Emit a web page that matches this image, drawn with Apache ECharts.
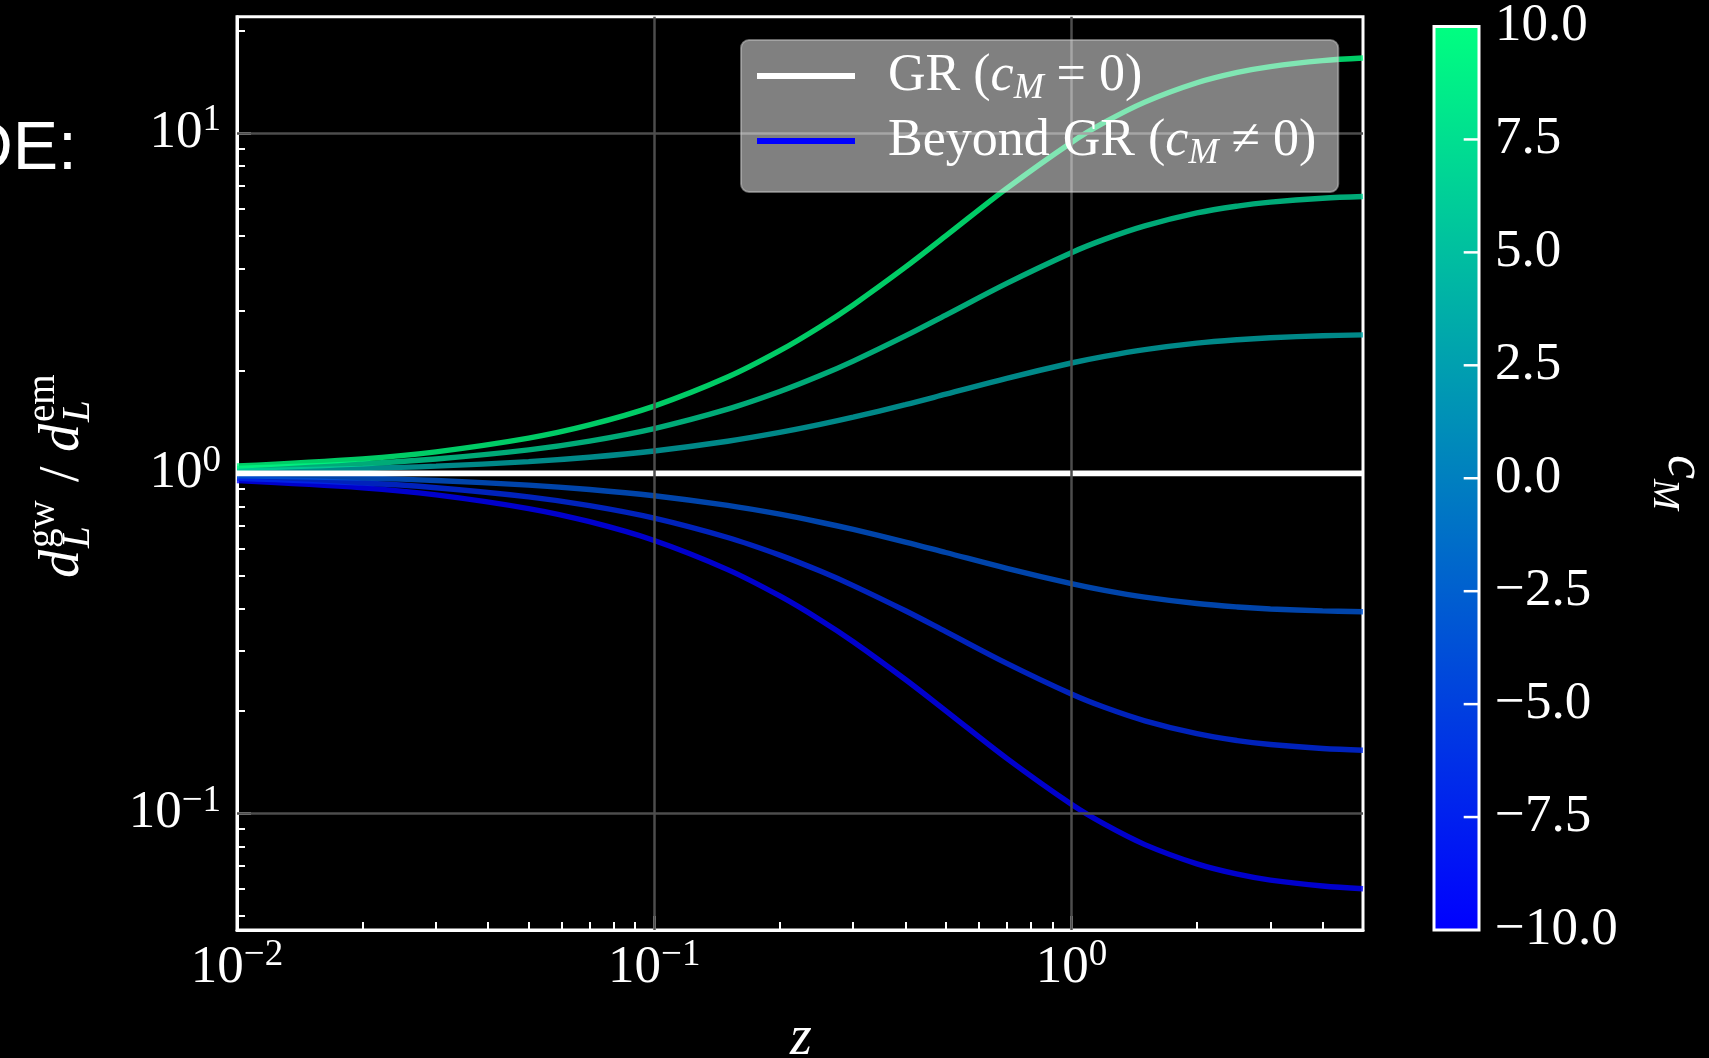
<!DOCTYPE html>
<html><head><meta charset="utf-8">
<script src="https://cdn.jsdelivr.net/npm/echarts@6/dist/echarts.min.js"></script>
<style>html,body{margin:0;padding:0;background:#000;}#c{width:1709px;height:1058px;}</style>
</head><body><div id="c"></div>
<script>
// ---- data ----
const zVals = [0.01,0.02,0.03,0.05,0.07,0.1,0.15,0.2,0.25,0.3,0.4,0.5,0.7,1,1.2,1.5,2,2.5,3,4,5];
const cMValues = [-10,-6.67,-3.33,0,3.33,6.67,10];
const ratioCm10   = [1.0507,1.1030,1.1568,1.2690,1.3876,1.5758,1.9185,2.2935,2.6977,3.1261,4.0364,4.9897,6.8849,9.3954,10.755,12.340,14.065,15.083,15.696,16.341,16.634];
const ratioCm6_67 = [1.0336,1.0675,1.1020,1.1722,1.2440,1.3540,1.5440,1.7394,1.9380,2.1380,2.5357,2.9196,3.6190,4.4536,4.8730,5.3396,5.8291,6.1052,6.2691,6.4403,6.5163];
const ratioCm3_33 = [1.0166,1.0332,1.0498,1.0827,1.1153,1.1636,1.2425,1.3188,1.3924,1.4622,1.5922,1.7087,1.9024,2.1104,2.2078,2.3110,2.4138,2.4706,2.5038,2.5374,2.5527];
const ratioCm0    = [1,1,1,1,1,1,1,1,1,1,1,1,1,1,1,1,1,1,1,1,1];
const ratioCmM3_33= [0.9837,0.9679,0.9526,0.9236,0.8966,0.8594,0.8048,0.7583,0.7182,0.6839,0.6281,0.5852,0.5257,0.4739,0.4529,0.4327,0.4143,0.4048,0.3994,0.3941,0.3917];
const ratioCmM6_67= [0.9675,0.9368,0.9074,0.8531,0.8039,0.7386,0.6477,0.5749,0.5160,0.4677,0.3944,0.3425,0.2763,0.2245,0.2052,0.1873,0.1716,0.1638,0.1595,0.1553,0.1535];
const ratioCmM10  = [0.9517,0.9066,0.8645,0.7880,0.7207,0.6346,0.5212,0.4360,0.3707,0.3199,0.2477,0.2004,0.1452,0.1064,0.0930,0.0810,0.0711,0.0663,0.0637,0.0612,0.0601];
const xMajorTicks = [0.01,0.1,1];
const xMinorTicks = [0.02,0.03,0.04,0.05,0.06,0.07,0.08,0.09,0.2,0.3,0.4,0.5,0.6,0.7,0.8,0.9,2,3,4];
const yMajorTicks = [0.1,1,10];
const yMinorTicks = [0.05,0.06,0.07,0.08,0.09,0.2,0.3,0.4,0.5,0.6,0.7,0.8,0.9,2,3,4,5,6,7,8,9,20];
const xRange = [0.01,5];
const yRange = [0.04545,22.0];
const cbRange = [-10,10];
const cbTicks = [-7.5,-5,-2.5,0,2.5,5,7.5];

// ---- helpers ----
const L10 = Math.log10;
const SERIF = '"Liberation Serif", "Times New Roman", serif';
function winter(c){ const t=(c-cbRange[0])/(cbRange[1]-cbRange[0]); return [0, Math.round(255*t), Math.round(255*(1-t/2))]; }
function mathExp(v){ const e=Math.round(v); return '{b|10}{p|'+(e<0?'\u2212'+(-e):e)+'}'; }
const tickRich = { b:{fontFamily:SERIF,fontSize:53,lineHeight:62,color:'#fff'}, p:{fontFamily:SERIF,fontSize:37,lineHeight:30,verticalAlign:'top',color:'#fff'} };

const curves = [
  {c:-10, v:ratioCmM10},{c:-6.67, v:ratioCmM6_67},{c:-3.33, v:ratioCmM3_33},
  {c:3.33, v:ratioCm3_33},{c:6.67, v:ratioCm6_67},{c:10, v:ratioCm10}
];

const series = [];
series.push({ type:'line', name:'gridlines', xAxisIndex:0, yAxisIndex:0, data:[], z:1, silent:true,
  markLine:{ silent:true, symbol:['none','none'], label:{show:false},
    lineStyle:{color:'#4d4d4d', width:2.5, type:'solid'},
    data:[{xAxis:L10(0.1)},{xAxis:L10(1)},{yAxis:L10(10)},{yAxis:L10(0.1)}] } });
curves.forEach(cv=>{
  const col = winter(cv.c);
  series.push({ type:'line', name:'cM '+cv.c, xAxisIndex:0, yAxisIndex:0, z:2,
    showSymbol:false, symbol:'none', smooth:0.35, silent:true,
    lineStyle:{color:'rgba('+col.join(',')+',0.8)', width:5.4},
    data: zVals.map((zz,i)=>[L10(zz), L10(cv.v[i])]) });
});
series.push({ type:'line', name:'GR', xAxisIndex:0, yAxisIndex:0, z:3, showSymbol:false, symbol:'none', silent:true,
  color:'#ffffff', itemStyle:{color:'#ffffff'}, lineStyle:{color:'#ffffff', width:5.6},
  data: zVals.map((zz,i)=>[L10(zz), L10(ratioCm0[i])]) });
series.push({ type:'line', name:'Beyond GR', xAxisIndex:0, yAxisIndex:0, showSymbol:false, symbol:'none',
  color:'#0000ff', itemStyle:{color:'#0000ff'}, lineStyle:{color:'#0000ff', width:5}, data:[] });
// colorbar tick marks on the colorbar's own axis, on a layer above everything
cbTicks.forEach((t,i)=>{
  series.push({ type:'line', name:'cbtick'+i, xAxisIndex:2, yAxisIndex:2, zlevel:1, z:10, silent:true,
    clip:false, showSymbol:false, symbol:'none', color:'#ffffff',
    lineStyle:{color:'#ffffff', width:2.5, opacity:1}, data:[[0.66, t],[1, t]] });
});

const gridRect = {left:237, top:16.7, width:1126, height:913.3};
const cb0 = winter(cbRange[0]), cb1 = winter(cbRange[1]);
const cbGradient = new echarts.graphic.LinearGradient(0,1,0,0,[
  {offset:0, color:'rgb('+cb0.join(',')+')'}, {offset:1, color:'rgb('+cb1.join(',')+')'}]);

function txt(text, x, base, fs, italic, family){
  return { type:'text', x:x, y:base-0.3*fs, silent:true,
    style:{ text:text, font:(italic?'italic ':'')+fs+'px '+(family||SERIF), fill:'#ffffff',
            textAlign:'left', textVerticalAlign:'middle', align:'left', verticalAlign:'middle' } };
}

const option = {
  backgroundColor:'#000000',
  animation:false,
  grid:[
    Object.assign({show:true, borderColor:'#ffffff', borderWidth:3, backgroundColor:'transparent'}, gridRect),
    Object.assign({show:false}, gridRect),
    {left:1434, top:16.7, width:45, height:913.3, show:true, backgroundColor:cbGradient, borderColor:'#ffffff', borderWidth:3}
  ],
  xAxis:[
    { gridIndex:0, type:'value', min:L10(xRange[0]), max:L10(xRange[1]), position:'bottom',
      axisLine:{show:true, onZero:false, lineStyle:{color:'#fff', width:3}},
      axisTick:{show:true, inside:true, length:14, lineStyle:{color:'#fff', width:2.5}, customValues:xMajorTicks.map(L10)},
      axisLabel:{show:true, customValues:xMajorTicks.map(L10), formatter:mathExp, margin:7, rich:tickRich, color:'#fff'},
      splitLine:{show:false} },
    { gridIndex:1, type:'value', min:L10(xRange[0]), max:L10(xRange[1]), position:'bottom',
      axisLine:{show:false, onZero:false},
      axisTick:{show:true, inside:true, length:8, lineStyle:{color:'#fff', width:2}, customValues:xMinorTicks.map(L10)},
      axisLabel:{show:false}, splitLine:{show:false} },
    { gridIndex:2, type:'value', min:0, max:1, show:false, axisLine:{onZero:false} }
  ],
  yAxis:[
    { gridIndex:0, type:'value', min:L10(yRange[0]), max:L10(yRange[1]), position:'left',
      axisLine:{show:true, onZero:false, lineStyle:{color:'#fff', width:3}},
      axisTick:{show:true, inside:true, length:14, lineStyle:{color:'#fff', width:2.5}, customValues:yMajorTicks.map(L10)},
      axisLabel:{show:true, customValues:yMajorTicks.map(L10), formatter:mathExp, margin:16, rich:tickRich, color:'#fff'},
      splitLine:{show:false} },
    { gridIndex:1, type:'value', min:L10(yRange[0]), max:L10(yRange[1]), position:'left',
      axisLine:{show:false, onZero:false},
      axisTick:{show:true, inside:true, length:8, lineStyle:{color:'#fff', width:2}, customValues:yMinorTicks.map(L10)},
      axisLabel:{show:false}, splitLine:{show:false} },
    { gridIndex:2, type:'value', min:cbRange[0], max:cbRange[1], interval:2.5, position:'right',
      axisLine:{show:false, onZero:false},
      axisTick:{show:false},
      axisLabel:{show:true, margin:16, color:'#fff', fontFamily:SERIF, fontSize:53,
        formatter:v=>(v<0?'\u2212':'')+Math.abs(v).toFixed(1)},
      splitLine:{show:false} }
  ],
  legend:{
    show:true, selectedMode:false, orient:'vertical', left:741, top:40,
    data:[{name:'GR', itemStyle:{color:'#ffffff'}, lineStyle:{color:'#ffffff', width:6}},
          {name:'Beyond GR', itemStyle:{color:'#0000ff'}, lineStyle:{color:'#0000ff', width:6}}],
    icon:'rect', itemWidth:98, itemHeight:6, itemGap:8,
    padding:[10,22,20,16], backgroundColor:'rgba(255,255,255,0.5)',
    borderColor:'rgba(200,200,200,0.5)', borderWidth:2, borderRadius:8, z:10,
    formatter:name=> name==='GR' ? '{t|GR (}{i|c}{s|M}{t| = 0)}' : '{t|Beyond GR (}{i|c}{s|M}{t| \u2260 0)}',
    textStyle:{color:'#fff', padding:[0,0,0,28],
      rich:{ t:{fontFamily:SERIF,fontSize:52,lineHeight:62,color:'#fff'},
             i:{fontFamily:SERIF,fontStyle:'italic',fontSize:52,lineHeight:62,color:'#fff'},
             s:{fontFamily:SERIF,fontStyle:'italic',fontSize:36,lineHeight:36,verticalAlign:'bottom',color:'#fff'} } }
  },
  graphic:[
    { type:'text', x:77, y:150, silent:true,
      style:{text:'DE:', font:'68px "Liberation Sans", Arial, sans-serif', fill:'#ffffff',
             textAlign:'right', align:'right', textVerticalAlign:'middle', verticalAlign:'middle'} },
    { type:'group', x:80, y:578, rotation:Math.PI/2, silent:true,
      children:[ txt('d',0,0,56,true), txt('gw',30,-25,39,false), txt('L',30,10,39,true),
                 txt('/',96,0,56,false), txt('d',126,0,56,true), txt('em',156,-25,39,false), txt('L',156,10,39,true) ] },
    { type:'group', x:1667, y:455, rotation:-Math.PI/2, silent:true,
      children:[ txt('c',0,0,54,true), txt('M',24,14,37,true) ] },
    { type:'text', x:801, y:1039, silent:true,
      style:{text:'z', font:'italic 56px '+SERIF, fill:'#ffffff', textAlign:'center', align:'center',
             textVerticalAlign:'middle', verticalAlign:'middle'} }
  ],
  series: series
};
const chart = echarts.init(document.getElementById('c'), null, {renderer:'canvas'});
chart.setOption(option);
</script></body></html>
